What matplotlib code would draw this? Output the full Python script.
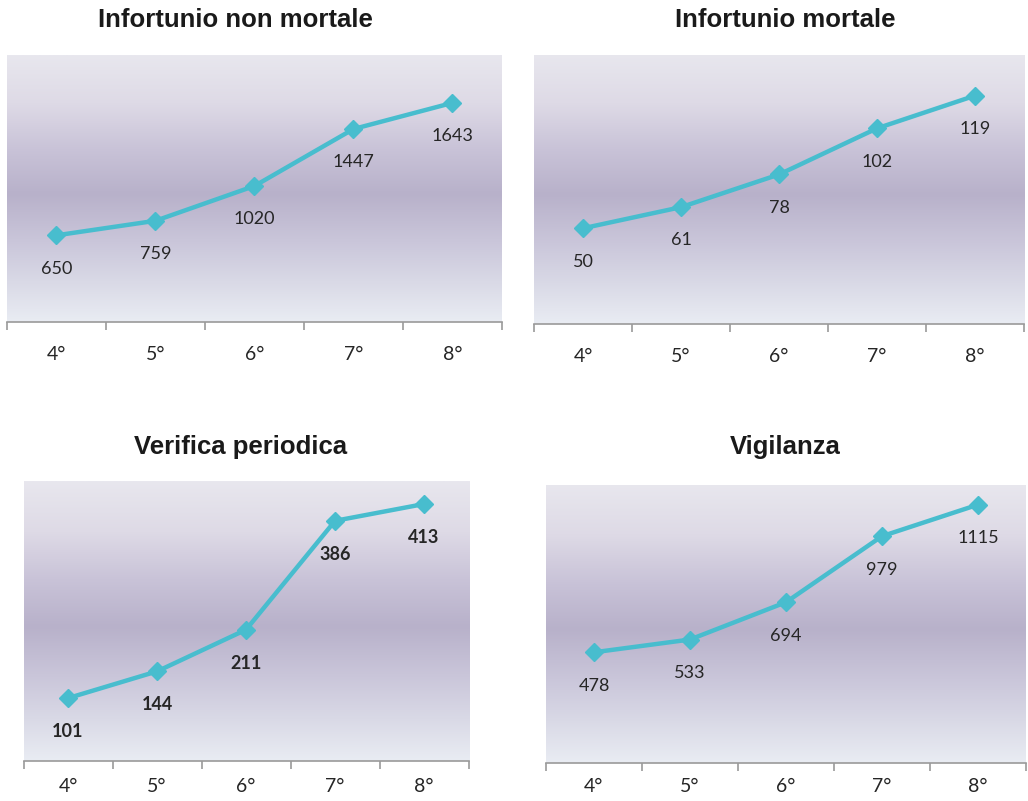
import numpy as np
import matplotlib
matplotlib.use("Agg")
import matplotlib.pyplot as plt
from matplotlib.colors import LinearSegmentedColormap

# data
categories = ["4°", "5°", "6°", "7°", "8°"]
titles = ["Infortunio non mortale", "Infortunio mortale", "Verifica periodica", "Vigilanza"]
non_mortale = [650, 759, 1020, 1447, 1643]
mortale = [50, 61, 78, 102, 119]
verifica = [101, 144, 211, 386, 413]
vigilanza = [478, 533, 694, 979, 1115]
ymax = [2000, 140, 450, 1200]
bold_labels = [False, False, True, False]

series = [non_mortale, mortale, verifica, vigilanza]

# axes boxes [left, bottom, width, height] and title positions (figure fraction)
boxes = [
    [0.0068, 0.598, 0.4815, 0.333],
    [0.5195, 0.595, 0.4767, 0.336],
    [0.0229, 0.050, 0.4329, 0.3495],
    [0.5311, 0.0474, 0.4669, 0.3471],
]
title_pos = [(0.229, 0.975), (0.764, 0.975), (0.234, 0.442), (0.764, 0.442)]
label_pad = [17, 17, 12, 11]

line_color = "#48BDCE"
bg_cmap = LinearSegmentedColormap.from_list(
    "bg",
    [(0.0, "#E8E7EE"), (0.18, "#DEDAE6"), (0.35, "#C9C3D8"), (0.52, "#B8B1CA"),
     (0.70, "#CAC6DA"), (0.85, "#D9D9E6"), (1.0, "#E9ECF3")])

plt.rcParams['font.family'] = ['Lato', 'DejaVu Sans']

fig = plt.figure(figsize=(10.28, 8.01), dpi=100)

for i, vals in enumerate(series):
    ax = fig.add_axes(boxes[i])
    x = np.arange(len(categories))
    ax.set_xlim(-0.5, len(categories) - 0.5)
    ax.set_ylim(0, ymax[i])

    grad = np.linspace(0, 1, 256).reshape(-1, 1)
    ax.imshow(grad, extent=[0, 1, 0, 1], transform=ax.transAxes, aspect='auto',
              cmap=bg_cmap, origin='upper', zorder=0)

    ax.plot(x, vals, color=line_color, lw=3.2, marker='D', markersize=9,
            markeredgecolor=line_color, zorder=3)
    for xi, v in zip(x, vals):
        ax.annotate(str(v), (xi, v), xytext=(0, -24), textcoords='offset points',
                    ha='center', va='center', fontsize=13, color='#262626',
                    fontweight='bold' if bold_labels[i] else 'normal', zorder=4)

    for s in ['left', 'right', 'top']:
        ax.spines[s].set_visible(False)
    ax.spines['bottom'].set_color('#9A9A9A')
    ax.spines['bottom'].set_linewidth(1.2)
    ax.set_yticks([])
    ax.set_xticks(np.arange(-0.5, len(categories), 1.0))
    ax.set_xticks(x, minor=True)
    ax.set_xticklabels([])
    ax.set_xticklabels(categories, minor=True)
    ax.tick_params(axis='x', which='major', length=6, width=1.2, color='#9A9A9A', direction='out')
    ax.tick_params(axis='x', which='minor', length=0, pad=label_pad[i], labelsize=14,
                   labelcolor='#262626')

    fig.text(title_pos[i][0], title_pos[i][1], titles[i], ha='center', va='center',
             fontsize=18.5, fontweight='bold', color='#1a1a1a',
             family=['Liberation Sans', 'DejaVu Sans'])

fig.savefig("out.png", dpi=100)
